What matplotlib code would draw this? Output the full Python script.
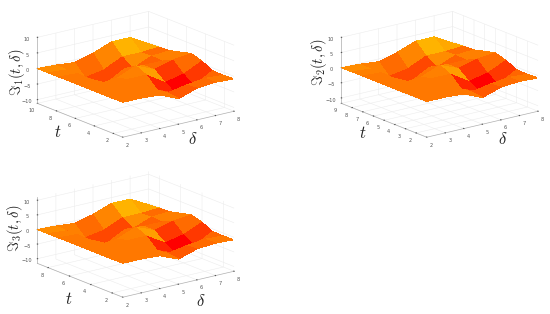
import numpy as np
import matplotlib
matplotlib.use("Agg")
import matplotlib.pyplot as plt
from matplotlib import cm

plt.rcParams['mathtext.fontset'] = 'cm'

delta = [2, 3, 4, 5, 6, 7, 8]
t_panel1 = [1, 2.125, 3.25, 4.375, 5.5, 6.625, 7.75, 8.875, 10]
t_panel23 = [1, 2, 3, 4, 5, 6, 7, 8, 9]

# surface heights: rows follow t, columns follow delta
heights = [
    [0, 0, -.4, -3, -1, -.5, -.8],
    [0, 0, 0, -2.5, -1.4, -.6, -1],
    [0, .3, .5, -2.9, -5.5, -4.3, -.9],
    [0, .5, .5, .5, -3.3, -2, .8],
    [0, -1, -.5, 2.1, -.5, 1.2, 1.9],
    [0, -.5, -3.5, -.1, -.5, -.5, 1],
    [0, -.3, -6.5, -5, -2.8, -.3, .1],
    [0, -.5, -4.4, -3.3, -.5, -.5, -.1],
    [0, -.3, -.9, .7, 3, 3, -.4],
]
# facet colour levels on the autumn map
levels = [
    [.47, .47, .47, .35, .42, .47],
    [.47, .47, .47, .35, .30, .40],
    [.47, .47, .47, .15, .00, .22],
    [.47, .47, .50, .62, .22, .42],
    [.47, .47, .45, .55, .42, .50],
    [.47, .42, .45, .50, .38, .50],
    [.50, .42, .28, .28, .55, .42],
    [.55, .50, .42, .52, .70, .66],
]

panels = [
    dict(t=t_panel1, tticks=[2, 4, 6, 8, 10], zlim=(-11.2, 10), zticks=[-10, -5, 0, 5, 10],
         pos=(120, 129), lab=r'$\Im_1(t,\delta)$', labxy=(17, 72), tlab=(58, 132), dlab=(193, 139)),
    dict(t=t_panel23, tticks=[2, 3, 4, 5, 6, 7, 8, 9], zlim=(-11.8, 9.6), zticks=[-10, -5, 0, 5, 10],
         pos=(424, 129), lab=r'$\Im_2(t,\delta)$', labxy=(319, 62), tlab=(363, 133), dlab=(503, 139)),
    dict(t=t_panel23, tticks=[2, 4, 6, 8], zlim=(-11.6, 11), zticks=[-10, -5, 0, 5, 10],
         pos=(120, 289), lab=r'$\Im_3(t,\delta)$', labxy=(15, 228), tlab=(69, 299), dlab=(201, 301)),
]

W, H = 550, 314
fig = plt.figure(figsize=(5.5, 3.14), dpi=100)
X0 = np.array(delta, float)
Zs = np.array(heights, float)
C = np.pad(np.array(levels, float), ((0, 1), (0, 1)), mode='edge')
face = cm.autumn(C)

for p in panels:
    w, h = 290, 200
    cx = p['pos'][0] + 13
    cy = p['pos'][1] - 52
    ax = fig.add_axes([(cx - w/2)/W, 1 - (cy + h/2)/H, w/W, h/H], projection='3d', proj_type='ortho')
    ax.patch.set_alpha(0)
    ax.view_init(elev=17.7, azim=-127.5)
    ax.set_box_aspect((421, 421, 208), zoom=1.02)
    XX, YY = np.meshgrid(X0, np.array(p['t'], float))
    ax.plot_surface(XX, YY, Zs, facecolors=face, rstride=1, cstride=1, shade=False,
                    linewidth=0, antialiased=False)
    ax.set_xlim(2, 8); ax.set_ylim(1, p['t'][-1]); ax.set_zlim(*p['zlim'])
    ax.set_xticks(delta); ax.set_yticks(p['tticks']); ax.set_zticks(p['zticks'])
    ax.tick_params(labelsize=3.6, pad=-4, colors='#555555', length=1, width=.3)
    for a in (ax.xaxis, ax.yaxis, ax.zaxis):
        a.set_pane_color((1, 1, 1, 1))
        a.line.set_color('#b0b0b0'); a.line.set_linewidth(.5)
        a._axinfo['grid'].update(color='#ececec', linewidth=.4)
        a._axinfo['tick'].update(inward_factor=0.0, outward_factor=0.03)
    fig.text(p['labxy'][0]/W, 1 - p['labxy'][1]/H, p['lab'], fontsize=10.5, rotation=90,
             ha='center', va='center', color='#222222')
    fig.text(p['tlab'][0]/W, 1 - p['tlab'][1]/H, r'$t$', fontsize=12, ha='center', va='center', color='#222222')
    fig.text(p['dlab'][0]/W, 1 - p['dlab'][1]/H, r'$\delta$', fontsize=12, ha='center', va='center', color='#222222')

fig.savefig('out.png', dpi=100)
